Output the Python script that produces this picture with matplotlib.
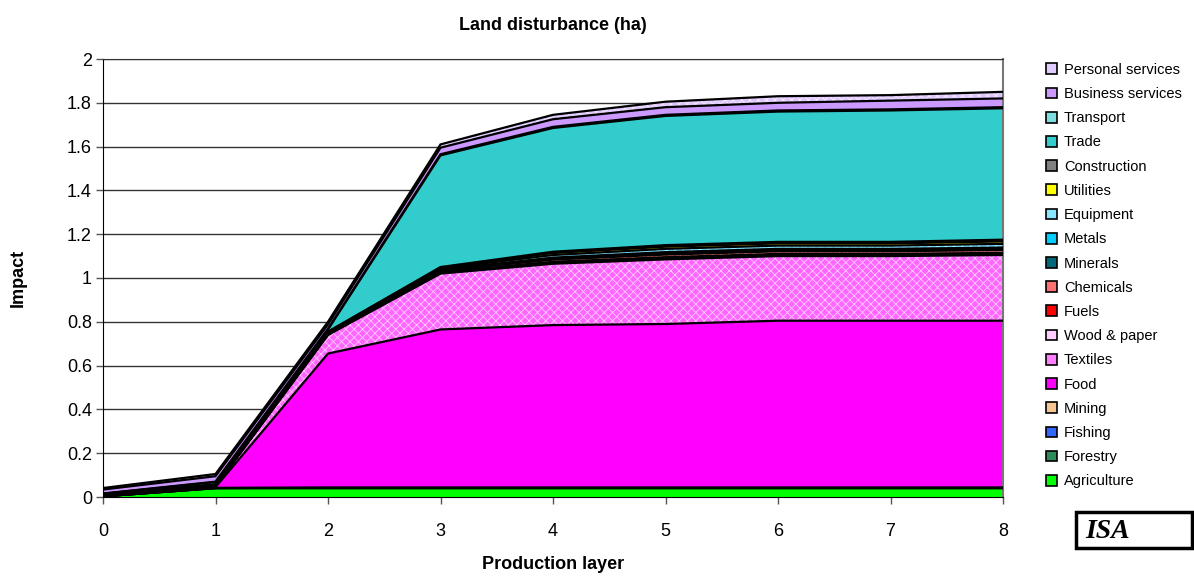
import matplotlib
matplotlib.use("Agg")
import matplotlib.pyplot as plt
from matplotlib.patches import Patch, Rectangle
import numpy as np

plt.rcParams['font.family'] = ['Liberation Sans Narrow', 'Liberation Sans', 'DejaVu Sans']
plt.rcParams['hatch.linewidth'] = 0.6

layers = [0, 1, 2, 3, 4, 5, 6, 7, 8]

# stacked from bottom to top
sectors = ["Agriculture", "Forestry", "Fishing", "Mining", "Food", "Textiles",
           "Wood & paper", "Fuels", "Chemicals", "Minerals", "Metals", "Equipment",
           "Utilities", "Construction", "Trade", "Transport", "Business services",
           "Personal services"]

agriculture  = [0.003, 0.040, 0.040, 0.040, 0.040, 0.040, 0.040, 0.040, 0.040]
forestry     = [0.000, 0.001, 0.001, 0.001, 0.001, 0.001, 0.001, 0.001, 0.001]
fishing      = [0.000, 0.000, 0.001, 0.001, 0.001, 0.001, 0.001, 0.001, 0.001]
mining       = [0.000, 0.000, 0.001, 0.001, 0.001, 0.001, 0.001, 0.001, 0.001]
food         = [0.000, 0.004, 0.612, 0.722, 0.742, 0.747, 0.762, 0.762, 0.762]
textiles     = [0.000, 0.003, 0.085, 0.255, 0.280, 0.295, 0.295, 0.295, 0.300]
wood_paper   = [0.001, 0.001, 0.002, 0.004, 0.005, 0.006, 0.006, 0.006, 0.006]
fuels        = [0.000, 0.001, 0.002, 0.003, 0.004, 0.004, 0.004, 0.004, 0.004]
chemicals    = [0.001, 0.001, 0.003, 0.006, 0.010, 0.012, 0.012, 0.012, 0.013]
minerals     = [0.001, 0.001, 0.002, 0.003, 0.005, 0.006, 0.006, 0.006, 0.006]
metals       = [0.001, 0.001, 0.001, 0.002, 0.004, 0.005, 0.005, 0.005, 0.005]
equipment    = [0.001, 0.001, 0.002, 0.005, 0.012, 0.015, 0.015, 0.015, 0.017]
utilities    = [0.001, 0.002, 0.002, 0.004, 0.009, 0.010, 0.010, 0.010, 0.011]
construction = [0.001, 0.002, 0.001, 0.003, 0.006, 0.007, 0.007, 0.007, 0.008]
trade        = [0.005, 0.010, 0.010, 0.510, 0.565, 0.590, 0.595, 0.600, 0.600]
transport    = [0.001, 0.002, 0.003, 0.005, 0.005, 0.005, 0.005, 0.005, 0.005]
business     = [0.018, 0.025, 0.020, 0.030, 0.035, 0.035, 0.035, 0.040, 0.040]
personal     = [0.007, 0.010, 0.012, 0.015, 0.020, 0.025, 0.030, 0.025, 0.030]

values = [agriculture, forestry, fishing, mining, food, textiles, wood_paper, fuels,
          chemicals, minerals, metals, equipment, utilities, construction, trade,
          transport, business, personal]

# (face colour, hatch, hatch colour, legend colour)
styles = [
    ("#00FF00", None, None, "#00FF00"),
    ("#2E8B57", None, None, "#2E8B57"),
    ("#3366FF", None, None, "#3366FF"),
    ("#F5C490", "..", "#E0A070", "#F5C490"),
    ("#FF00FF", None, None, "#FF00FF"),
    ("#FF66FF", "xxxx", "#FFCCFF", "#FF80FF"),
    ("#FFFFFF", "..", "#FF00FF", "#FFCCFF"),
    ("#FF0000", None, None, "#FF0000"),
    ("#FF6666", "xxxx", "#FFCCCC", "#FF7070"),
    ("#006070", "xxxx", "#00A0C0", "#006878"),
    ("#00CCFF", None, None, "#00CCFF"),
    ("#66DDFF", "xxxx", "#CCF4FF", "#88E4FF"),
    ("#FFFF00", None, None, "#FFFF00"),
    ("#808080", None, None, "#808080"),
    ("#33CCCC", None, None, "#33CCCC"),
    ("#66D8D8", "xxxx", "#CCF0F0", "#80DDDD"),
    ("#CC99FF", None, None, "#CC99FF"),
    ("#E0C8FF", "xxxx", "#F6EEFF", "#E0CCFF"),
]

fig = plt.figure(figsize=(11.94, 5.76), dpi=100)
ax = fig.add_axes([103 / 1194, 79 / 576, 900 / 1194, 438 / 576])

x = np.array(layers)
bottom = np.zeros(len(layers))
for name, vals, (fc, h, hc, lc) in zip(sectors, values, styles):
    top = bottom + np.array(vals)
    if h:
        ax.fill_between(x, bottom, top, facecolor=fc, edgecolor=hc, hatch=h,
                        linewidth=0, zorder=2)
    else:
        ax.fill_between(x, bottom, top, facecolor=fc, linewidth=0, zorder=2)
    ax.plot(x, top, color="black", lw=1.6, zorder=3, solid_joinstyle="miter")
    bottom = top

ax.set_xlim(0, 8)
ax.set_ylim(0, 2)
ax.set_xticks(layers)
ax.set_yticks(np.arange(0, 2.01, 0.2))
ax.set_yticklabels(["0", "0.2", "0.4", "0.6", "0.8", "1", "1.2", "1.4", "1.6", "1.8", "2"])
ax.tick_params(axis="both", direction="out", length=5, width=1, color="#555555",
               labelsize=13, pad=3)
ax.tick_params(axis="x", pad=14)
ax.yaxis.grid(True, color="#333333", lw=1, zorder=1)
ax.set_axisbelow(True)
for side in ["left", "bottom"]:
    ax.spines[side].set_color("black")
ax.spines["top"].set_color("#333333")
ax.spines["right"].set_color("#777777")
ax.spines["right"].set_linewidth(1.5)

ax.set_title("Land disturbance (ha)", fontsize=13, fontweight="bold",
             family=["Liberation Sans", "DejaVu Sans"], pad=21)
ax.set_xlabel("Production layer", fontsize=13, fontweight="bold",
              family=["Liberation Sans", "DejaVu Sans"], labelpad=11)
ax.set_ylabel("Impact", fontsize=13, fontweight="bold",
              family=["Liberation Sans", "DejaVu Sans"], labelpad=29)

handles = [Patch(facecolor=s[3], edgecolor="black", linewidth=1.2) for s in styles]
fig.legend(handles[::-1], sectors[::-1], loc="upper left",
           bbox_to_anchor=(1040 / 1194, 1 - 57 / 576), frameon=False,
           fontsize=10.5, handlelength=0.75, handleheight=0.75, handletextpad=0.5,
           labelspacing=0.70, borderaxespad=0)

# logo box
fig.patches.append(Rectangle((1076 / 1194, 1 - 548 / 576), 116 / 1194, 36 / 576,
                             transform=fig.transFigure, facecolor="white",
                             edgecolor="black", linewidth=2.5))
fig.text(1108 / 1194, 1 - 531 / 576, "ISA", fontsize=20, fontstyle="italic",
         fontweight="bold", ha="center", va="center",
         family=["Liberation Serif", "DejaVu Serif"])

fig.savefig("out.png", dpi=100)
